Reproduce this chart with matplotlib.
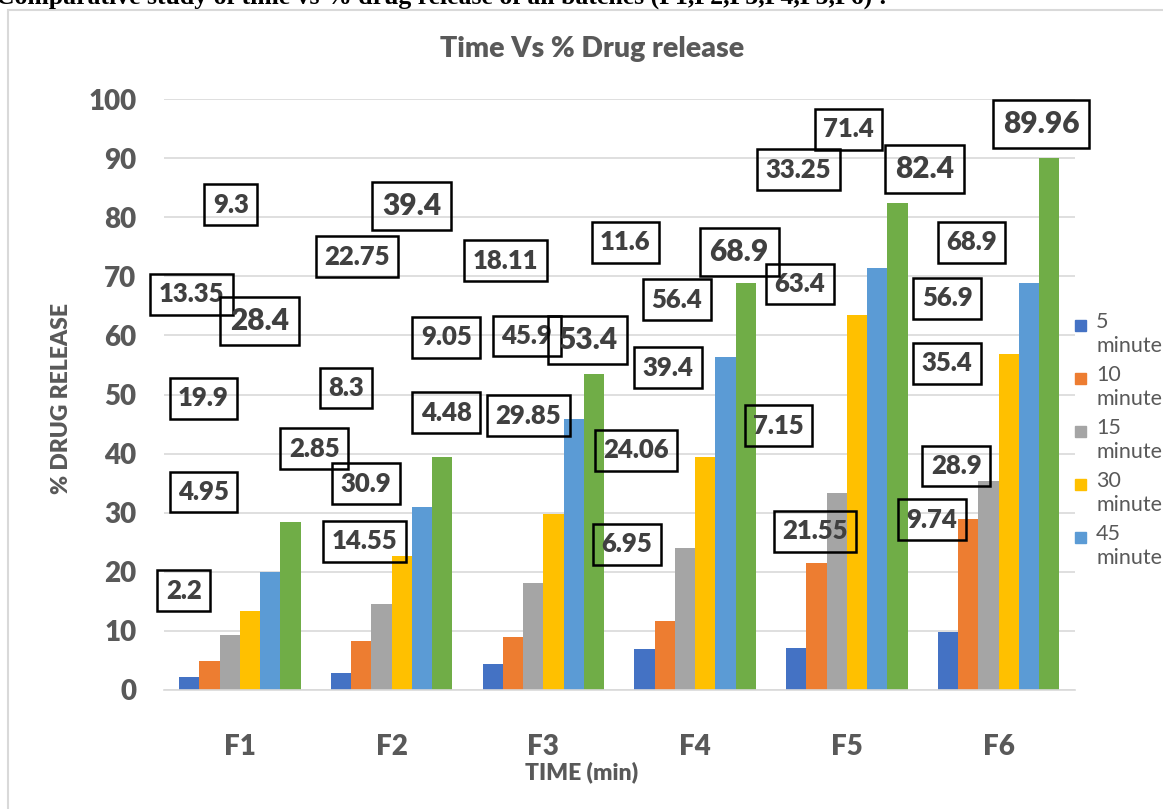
import matplotlib.pyplot as plt
import numpy as np
from matplotlib.patches import Rectangle

# batches
batches = ['F1', 'F2', 'F3', 'F4', 'F5', 'F6']
series_names = ['5\nminute', '10\nminute', '15\nminute', '30\nminute', '45\nminute', '60\nminute']
colors = ['#4472C4', '#ED7D31', '#A5A5A5', '#FFC000', '#5B9BD5', '#70AD47']

# % drug release per batch
min5 = [2.2, 2.85, 4.48, 6.95, 7.15, 9.74]
min10 = [4.95, 8.3, 9.05, 11.6, 21.55, 28.9]
min15 = [9.3, 14.55, 18.11, 24.06, 33.25, 35.4]
min30 = [13.35, 22.75, 29.85, 39.4, 63.4, 56.9]
min45 = [19.9, 30.9, 45.9, 56.4, 71.4, 68.9]
min60 = [28.4, 39.4, 53.4, 68.9, 82.4, 89.96]
values = [min5, min10, min15, min30, min45, min60]

# where the data labels ended up (x in group units, y in %)
lab_x = [[-0.37, 0.49, 1.36, 2.55, 3.55, 4.56],
         [-0.24, 0.70, 1.36, 2.54, 3.79, 4.72],
         [-0.06, 0.82, 1.75, 2.61, 3.68, 4.66],
         [-0.32, 0.77, 1.90, 2.82, 3.69, 4.66],
         [-0.24, 0.83, 1.89, 2.88, 4.01, 4.82],
         [0.13, 1.13, 2.29, 3.29, 4.51, 5.28]]
lab_y = [[16.8, 40.8, 46.9, 24.7, 44.7, 28.8],
         [33.5, 51.1, 59.7, 75.8, 26.9, 37.9],
         [82.1, 25.2, 72.6, 40.6, 88.0, 55.3],
         [67.0, 73.3, 46.4, 54.5, 68.7, 66.3],
         [49.4, 34.9, 59.9, 66.0, 94.9, 75.8],
         [62.4, 81.9, 59.2, 74.1, 88.2, 95.8]]

grey = '#595959'
plt.rcParams['font.family'] = ['Lato', 'DejaVu Sans']

fig = plt.figure(figsize=(11.63, 8.09), dpi=100)
ax = fig.add_axes([0.141, 0.1471, 0.783, 0.7305])

x = np.arange(len(batches))
w = 0.8 / 6
for i in range(6):
    ax.bar(x - 0.4 + w * (i + 0.5), values[i], w, color=colors[i], zorder=2)
    for j in range(6):
        big = i == 5
        ax.text(lab_x[i][j], lab_y[i][j], f'{values[i][j]:g}',
                ha='center', va='center', fontsize=21.5 if big else 18.5,
                fontweight='heavy', color='#404040', zorder=5, clip_on=False,
                bbox=dict(boxstyle='square,pad=0.33', fc='none', ec='black', lw=1.8))

ax.set_xlim(-0.5, 5.5)
ax.set_ylim(0, 100)
ax.set_yticks(range(0, 101, 10))
ax.grid(axis='y', color='#d9d9d9', lw=1.2, zorder=0)
for s in ['top', 'right', 'left']:
    ax.spines[s].set_visible(False)
ax.spines['bottom'].set_color('#d9d9d9')
ax.spines['bottom'].set_linewidth(1.2)
ax.tick_params(length=0)
ax.tick_params(axis='y', pad=20, labelsize=20, labelcolor=grey)
ax.tick_params(axis='x', pad=32, labelsize=20, labelcolor=grey)
ax.set_xticks(x)
ax.set_xticklabels(batches)
for t in ax.get_xticklabels() + ax.get_yticklabels():
    t.set_fontweight('heavy')

ax.set_xlabel('TIME (min)', fontsize=16.5, fontweight='heavy', color=grey)
ax.xaxis.set_label_coords(0.459, -0.120)
ax.set_ylabel('% DRUG RELEASE', fontsize=16.5, fontweight='heavy', color=grey)
ax.yaxis.set_label_coords(-0.101, 0.493)
fig.text(592 / 1163, 1 - 49 / 809, 'Time Vs % Drug release', ha='center', va='center',
         fontsize=20.5, fontweight='heavy', color=grey)

# legend (only the first five entries fit)
for i in range(5):
    ytop = 325 + 53 * i
    fig.add_artist(Rectangle((1075 / 1163, 1 - (ytop + 6) / 809), 11 / 1163, 11 / 809,
                             transform=fig.transFigure, color=colors[i]))
    fig.text(1096 / 1163, 1 - (ytop - 13) / 809, series_names[i], ha='left', va='top',
             fontsize=15.5, color=grey, linespacing=1.25)

# chart frame and caption above it
fig.add_artist(Rectangle((8 / 1163, -0.05), 1.2, 1 - 10 / 809 + 0.05,
                         transform=fig.transFigure, fill=False, ec='#d9d9d9', lw=1.5))
fig.text(-4 / 1163, 1 - 4 / 809,
         'Comparative study of time vs % drug release of all batches (F1,F2,F3,F4,F5,F6) :',
         ha='left', va='baseline', fontsize=18.5, fontweight='bold',
         family='Liberation Serif', color='black')

fig.savefig('out.png', dpi=100)
